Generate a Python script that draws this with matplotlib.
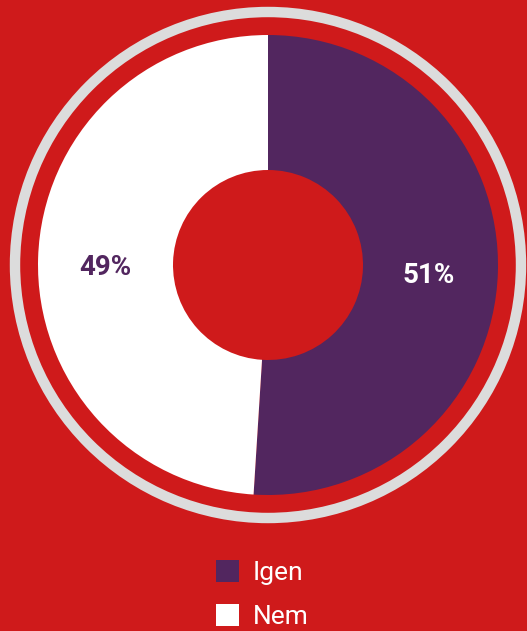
import matplotlib
matplotlib.use("Agg")
import matplotlib.pyplot as plt
from matplotlib.patches import Circle, Patch

categories = ["Igen", "Nem"]
values = [51, 49]
labels_pct = ["51%", "49%"]

bg = "#CF1A1B"
colors = ["#52265F", "#FFFFFF"]
label_colors = ["#FFFFFF", "#52265F"]
ring_color = "#DCDCDC"

W, H = 527, 631
fig = plt.figure(figsize=(W / 100, H / 100), dpi=100, facecolor=bg)
ax = fig.add_axes([0, 0, 1, 1])
ax.set_facecolor(bg)

cx, cy = 268, H - 265
R = 230
hole = 95

wedges, texts = ax.pie(values, colors=colors, startangle=90, counterclock=False,
                       center=(cx, cy), radius=R, labels=labels_pct,
                       labeldistance=0.70,
                       wedgeprops=dict(width=R - hole, linewidth=0),
                       textprops=dict(fontsize=20, fontweight="bold", family="Roboto",
                                      ha="center", va="center"))
label_dy = [-5, -8]
for t, c, dy in zip(texts, label_colors, label_dy):
    t.set_color(c)
    x, y = t.get_position()
    t.set_position((x - (0 if c == "#FFFFFF" else 2), y + dy))

ring = Circle((cx, cy), 253, fill=False, edgecolor=ring_color, linewidth=7.5)
ax.add_patch(ring)

ax.set_xlim(0, W)
ax.set_ylim(0, H)
ax.set_aspect("auto")
ax.axis("off")

handles = [Patch(facecolor=c, edgecolor="none") for c in colors]
leg = ax.legend(handles, categories, loc="upper left",
                bbox_to_anchor=(195 / W, 1 - 539 / H), bbox_transform=fig.transFigure,
                frameon=False, handlelength=0.88, handleheight=0.88,
                handletextpad=0.5, labelspacing=0.72, borderpad=0.3,
                prop=dict(family="Roboto", weight="normal", size=19))
for t in leg.get_texts():
    t.set_color("white")

fig.savefig("out.png", dpi=100, facecolor=bg)
